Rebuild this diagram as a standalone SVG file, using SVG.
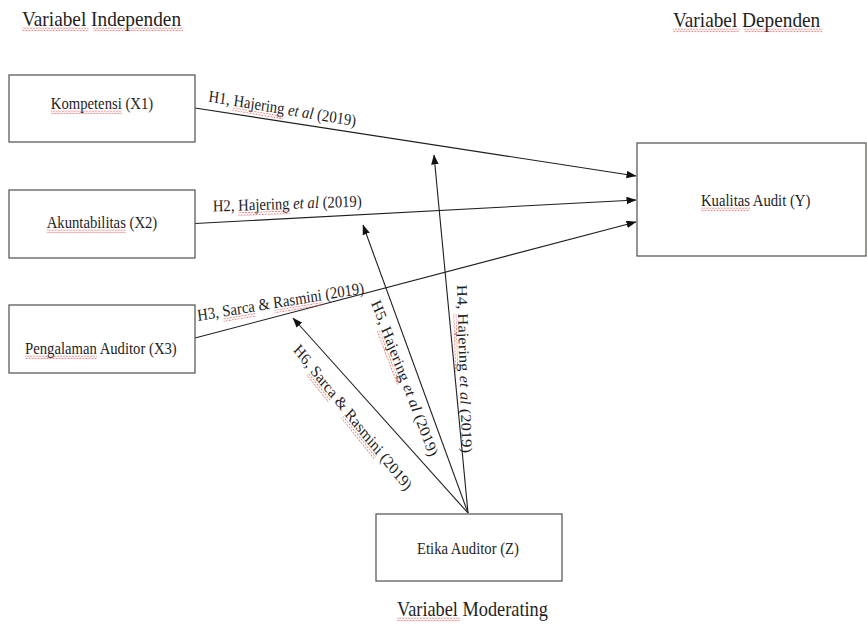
<svg xmlns="http://www.w3.org/2000/svg" width="867" height="624" viewBox="0 0 867 624">
<style>
.box{fill:#fff;stroke:#5c5c56;stroke-width:1.3}
.t{font-family:"Liberation Serif","Times New Roman",serif;fill:#1e1e1e}
.lbl{font-size:14.7px}
.ttl{font-size:19.3px}
.conn{stroke:#1e1e1e;stroke-width:1.1;fill:none;marker-end:url(#ah)}
.sq{fill:url(#wavy)}
.it{font-style:italic}
</style>
<defs>
<marker id="ah" markerUnits="userSpaceOnUse" markerWidth="10" markerHeight="8" refX="9.5" refY="3.75" orient="auto">
<path d="M0,0 L10,3.75 L0,7.5 z" fill="#111"/>
</marker>
<pattern id="wavy" patternUnits="userSpaceOnUse" width="3" height="3">
<path d="M0 2.4 L1.5 0.6 L3 2.4" fill="none" stroke="#d95555" stroke-width="0.7"/>
</pattern>
</defs>
<rect width="867" height="624" fill="#fff"/>

<g id="titles">
<g transform="translate(22 26) scale(1 1.13)">
<text class="t ttl" x="0" y="0">Variabel Independen</text>
<rect class="sq" x="0" y="1.5" width="66.4" height="3"/>
<rect class="sq" x="71.3" y="1.5" width="90" height="3"/>
</g>
<g transform="translate(673 27) scale(1 1.13)">
<text class="t ttl" x="0" y="0">Variabel Dependen</text>
<rect class="sq" x="0" y="1.5" width="66.4" height="3"/>
<rect class="sq" x="71.3" y="1.5" width="78.2" height="3"/>
</g>
<g transform="translate(397 616) scale(1 1.13)">
<text class="t" style="font-size:18.3px" x="0" y="0">Variabel Moderating</text>
<rect class="sq" x="0" y="1.5" width="63" height="3"/>
</g>
</g>

<g id="connectors">
<line class="conn" x1="195" y1="108" x2="636" y2="176"/>
<line class="conn" x1="195" y1="223.5" x2="636" y2="200"/>
<line class="conn" x1="195" y1="338" x2="636" y2="222"/>
<line class="conn" x1="468" y1="513" x2="434" y2="155"/>
<line class="conn" x1="468" y1="513" x2="363" y2="225"/>
<line class="conn" x1="468" y1="513" x2="293" y2="318"/>
</g>

<g id="edge-labels">
<g id="lbl-h1" transform="translate(208 101.5) scale(1 1.13) rotate(8.5)">
<text class="t lbl" x="0" y="0">H1, Hajering <tspan class="it">et al</tspan> (2019)</text>
<rect class="sq" x="25.3" y="1.5" width="51.4" height="3"/>
</g>
<g id="lbl-h2" transform="translate(213 211.5) scale(1 1.13) rotate(-1.7)">
<text class="t lbl" x="0" y="0">H2, Hajering <tspan class="it">et al</tspan> (2019)</text>
<rect class="sq" x="25.3" y="1.5" width="51.4" height="3"/>
</g>
<g id="lbl-h3" transform="translate(198 321) scale(1 1.13) rotate(-8.4)">
<text class="t lbl" x="0" y="0">H3, Sarca &amp; Rasmini (2019)</text>
<rect class="sq" x="25.3" y="1.5" width="32.6" height="3"/>
<rect class="sq" x="76.7" y="1.5" width="49" height="3"/>
</g>
<g id="lbl-h4" transform="translate(457 285) scale(1 1.13) rotate(88)">
<text class="t lbl" x="0" y="0">H4, Hajering <tspan class="it">et al</tspan> (2019)</text>
<rect class="sq" x="25.3" y="1.5" width="51.4" height="3"/>
</g>
<g id="lbl-h5" transform="translate(371 303) scale(1 1.13) rotate(66.8)">
<text class="t lbl" x="0" y="0">H5, Hajering <tspan class="it">et al</tspan> (2019)</text>
<rect class="sq" x="25.3" y="1.5" width="51.4" height="3"/>
</g>
<g id="lbl-h6" transform="translate(292.7 350.5) scale(1 1.13) rotate(47.8)">
<text class="t lbl" x="0" y="0">H6, Sarca &amp; Rasmini (2019)</text>
<rect class="sq" x="25.3" y="1.5" width="32.6" height="3"/>
<rect class="sq" x="76.7" y="1.5" width="49" height="3"/>
</g>
</g>

<g id="node-x1">
<rect class="box" x="9" y="75" width="186" height="67"/>
<g transform="translate(50.8 109) scale(1 1.13)">
<text class="t lbl" x="0" y="0">Kompetensi (X1)</text>
<rect class="sq" x="0" y="1.5" width="71" height="3"/>
</g>
</g>

<g id="node-x2">
<rect class="box" x="9" y="190" width="186" height="68"/>
<g transform="translate(46.7 228) scale(1 1.13)">
<text class="t lbl" x="0" y="0">Akuntabilitas (X2)</text>
<rect class="sq" x="0" y="1.5" width="79.2" height="3"/>
</g>
</g>

<g id="node-x3">
<rect class="box" x="9" y="305" width="186" height="68"/>
<g transform="translate(25 354) scale(1 1.13)">
<text class="t lbl" x="0" y="0">Pengalaman Auditor (X3)</text>
<rect class="sq" x="0" y="1.5" width="71.9" height="3"/>
</g>
</g>

<g id="node-y">
<rect class="box" x="637" y="143" width="229" height="113"/>
<g transform="translate(701 206) scale(1 1.13)">
<text class="t lbl" x="0" y="0">Kualitas Audit (Y)</text>
<rect class="sq" x="0" y="1.5" width="49" height="3"/>
</g>
</g>

<g id="node-z">
<rect class="box" x="376" y="514" width="186" height="67"/>
<g transform="translate(417 554) scale(1 1.13)">
<text class="t lbl" x="0" y="0">Etika Auditor (Z)</text>
</g>
</g>
</svg>
